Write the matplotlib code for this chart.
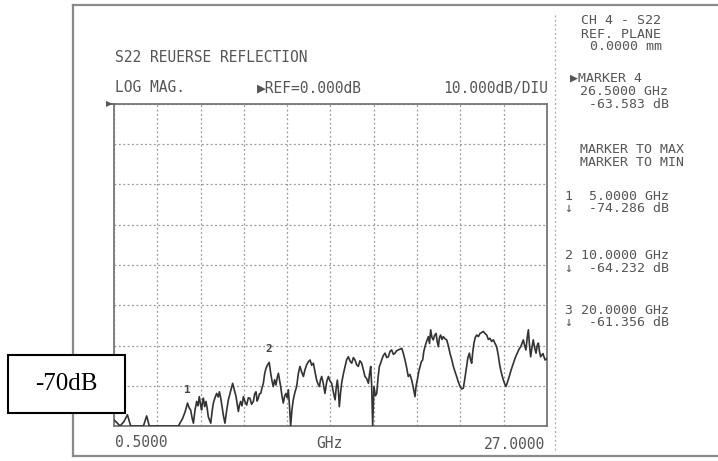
import matplotlib
matplotlib.use('Agg')
import matplotlib.pyplot as plt
from matplotlib.lines import Line2D
from matplotlib.patches import Rectangle
import numpy as np

# S22 trace (GHz, dB)
freq = [0.50, 0.66, 0.87, 1.11, 1.32, 1.52, 2.30, 2.50, 2.66, 4.44, 4.70, 4.85, 5.00, 5.10, 5.19, 5.28, 5.36,
        5.46, 5.56, 5.64, 5.72, 5.80, 5.86, 5.92, 5.97, 6.05, 6.13, 6.20, 6.27, 6.42, 6.50, 6.58, 6.68, 6.78,
        6.88, 6.95, 7.03, 7.11, 7.20, 7.29, 7.40, 7.50, 7.63, 7.76, 7.86, 7.97, 8.04, 8.11, 8.18, 8.25, 8.33,
        8.42, 8.52, 8.62, 8.72, 8.82, 8.92, 9.03, 9.11, 9.19, 9.26, 9.33, 9.40, 9.48, 9.56, 9.64, 9.72, 9.80,
        9.90, 10.00, 10.09, 10.17, 10.25, 10.33, 10.41, 10.49, 10.56, 10.63, 10.70, 10.78, 10.86, 10.95, 11.03,
        11.10, 11.17, 11.24, 11.31, 11.39, 11.47, 11.58, 11.68, 11.78, 11.88, 11.98, 12.09, 12.19, 12.29, 12.40,
        12.50, 12.60, 12.70, 12.80, 12.90, 12.98, 13.07, 13.14, 13.21, 13.31, 13.41, 13.52, 13.62, 13.72, 13.82,
        13.92, 14.03, 14.10, 14.17, 14.23, 14.29, 14.36, 14.43, 14.54, 14.64, 14.74, 14.84, 14.95, 15.05, 15.15,
        15.25, 15.35, 15.45, 15.55, 15.66, 15.76, 15.86, 15.96, 16.07, 16.14, 16.21, 16.27, 16.33, 16.41, 16.50,
        16.58, 16.66, 16.74, 16.81, 16.88, 16.98, 17.09, 17.19, 17.29, 17.39, 17.49, 17.60, 17.70, 17.80, 17.90,
        18.00, 18.11, 18.21, 18.31, 18.41, 18.51, 18.61, 18.72, 18.82, 18.92, 18.99, 19.06, 19.15, 19.23, 19.31,
        19.39, 19.46, 19.53, 19.63, 19.74, 19.81, 19.88, 19.96, 20.04, 20.12, 20.21, 20.28, 20.35, 20.42, 20.49,
        20.57, 20.65, 20.75, 20.86, 20.96, 21.06, 21.17, 21.27, 21.37, 21.47, 21.57, 21.68, 21.78, 21.88, 21.98,
        22.08, 22.16, 22.25, 22.32, 22.39, 22.46, 22.53, 22.61, 22.70, 22.80, 22.90, 23.00, 23.10, 23.20, 23.31,
        23.41, 23.51, 23.61, 23.72, 23.82, 23.92, 24.02, 24.12, 24.22, 24.33, 24.41, 24.49, 24.59, 24.69, 24.81,
        24.94, 25.06, 25.18, 25.28, 25.39, 25.47, 25.55, 25.63, 25.71, 25.79, 25.86, 25.93, 26.00, 26.08, 26.16,
        26.24, 26.33, 26.40, 26.47, 26.54, 26.61, 26.75, 26.88, 27.00]
mag = [-78.5, -79.1, -80.0, -78.9, -77.2, -80.0, -80.0, -77.5, -80.0, -80.0, -78.1, -76.5, -74.3, -75.5, -76.0, -78.0, -79.3,
       -76.0, -73.9, -75.0, -72.7, -74.8, -76.0, -74.0, -73.1, -75.2, -73.9, -75.5, -77.7, -79.3, -76.5, -74.3, -73.0, -71.9,
       -72.8, -71.5, -73.0, -75.2, -77.5, -79.3, -76.0, -73.5, -71.5, -69.4, -71.0, -72.7, -74.5, -76.4, -74.8, -73.9, -75.0,
       -72.7, -74.0, -74.8, -73.0, -73.1, -74.6, -73.9, -72.0, -71.5, -73.8, -73.1, -72.0, -71.9, -70.5, -69.4, -67.0, -65.7,
       -64.8, -64.2, -66.9, -68.8, -70.2, -68.5, -69.8, -68.0, -66.9, -68.5, -70.2, -72.5, -74.3, -72.5, -71.9,
       -73.0, -71.0, -75.0, -80.0, -76.0, -73.5, -71.5, -70.2, -67.0, -65.2, -66.5, -67.7, -66.0, -64.8, -64.0,
       -63.6, -64.9, -64.4, -66.5, -68.6, -69.5, -70.2, -68.5, -67.7, -69.5, -71.9, -69.0, -67.7, -68.8, -69.4,
       -71.5, -73.5, -70.5, -68.6, -71.0, -75.2, -72.0, -69.4, -67.0, -65.2, -63.5, -62.8, -63.9, -64.4, -63.0,
       -63.6, -64.8, -65.2, -63.8, -64.4, -66.0, -67.7, -68.2, -69.4, -67.0, -65.2, -70.0, -80.0, -70.2, -72.5,
       -71.9, -68.0, -65.2, -64.5, -63.6, -62.5, -61.9, -63.0, -62.8, -61.5, -61.1, -62.2, -61.9, -61.3, -61.1,
       -60.9, -60.7, -62.0, -63.6, -65.5, -67.7, -67.2, -68.6, -70.5, -72.7, -70.0, -68.6, -66.5, -65.2, -64.0,
       -63.6, -61.5, -60.3, -59.0, -57.8, -59.5, -56.1, -58.0, -58.6, -57.5, -57.0, -59.0, -60.3, -58.0, -57.4,
       -58.5, -57.8, -58.3, -58.6, -60.0, -61.9, -63.5, -65.2, -66.5, -67.7, -69.0, -70.2, -70.8, -70.6, -68.0,
       -65.2, -63.0, -61.9, -63.5, -64.4, -61.5, -59.4, -58.0, -57.4, -57.8, -57.0, -56.8, -56.5, -57.0, -57.4,
       -58.5, -58.2, -59.0, -58.6, -59.5, -60.3, -62.5, -65.2, -67.0, -68.6, -69.5, -70.2, -69.0, -67.7, -66.0,
       -64.4, -63.0, -61.9, -61.0, -60.3, -59.5, -58.6, -60.0, -61.1, -58.0, -56.1, -60.0, -62.8, -60.5, -58.6,
       -60.5, -61.9, -60.0, -59.4, -61.5, -62.8, -62.0, -63.6, -63.2]

# marker readouts: (number, GHz, dB)
markers = [(1, 5.0, -74.286), (2, 10.0, -64.232), (3, 20.0, -61.356)]

f_start, f_stop = 0.5, 27.0
ref_db, db_div, n_div_y = 0.0, 10.0, 8
n_div_x = 10

W, H = 718, 461
ink = '#555555'
mono = 'DejaVu Sans Mono'
fs = 10.5      # header / axis text
fs_side = 9.5  # marker panel text

fig = plt.figure(figsize=(W / 100, H / 100), dpi=100)


def px(x, y):
    # pixel position -> figure fraction
    return x / W, 1 - y / H


ax = fig.add_axes([114 / W, 1 - 426 / H, 433 / W, 322 / H])
ax.plot(freq, mag, color='#333333', lw=1.2, zorder=3)
ax.set_xlim(f_start, f_stop)
ax.set_ylim(ref_db - n_div_y * db_div, ref_db)
ax.set_xticks(np.linspace(f_start, f_stop, n_div_x + 1))
ax.set_yticks(np.arange(ref_db - n_div_y * db_div, ref_db + 1, db_div))
ax.tick_params(length=0, labelbottom=False, labelleft=False)
ax.grid(True, color='#9a9a9a', ls=(0, (1.5, 2)), lw=0.9)
for s in ax.spines.values():
    s.set_color('#777777')
    s.set_linewidth(1.3)

# reference pointer on the top line
fig.add_artist(Line2D([110 / W, 114 / W], [1 - 104 / H] * 2, color='#666666', lw=1.3))
fig.text(*px(109, 104), '\u25b6', fontsize=6, color='#555555', ha='center', va='center')

# outer frame of the plot sheet
for xs, ys in [((73, 718), (5, 5)), ((73, 73), (5, 456)), ((73, 718), (456, 456))]:
    fig.add_artist(Line2D([x / W for x in xs], [1 - y / H for y in ys], color='#8a8a8a', lw=1.6))
fig.add_artist(Line2D([555 / W] * 2, [1 - 15 / H, 1 - 452 / H], color='#aaaaaa', lw=0.9, ls=(0, (1.5, 2))))

# header texts
fig.text(*px(115, 57), 'S22 REUERSE REFLECTION', family=mono, fontsize=fs, color=ink, va='center')
fig.text(*px(115, 88), 'LOG MAG.', family=mono, fontsize=fs, color=ink, va='center')
fig.text(*px(257, 88), '\u25b6REF=0.000dB', family=mono, fontsize=fs, color=ink, va='center')
fig.text(*px(548, 88), '10.000dB/DIU', family=mono, fontsize=fs, color=ink, va='center', ha='right')

# bottom axis labels
fig.text(*px(115, 442), '0.5000', family=mono, fontsize=fs, color=ink, va='center')
fig.text(*px(329, 443), 'GHz', family=mono, fontsize=fs, color=ink, va='center', ha='center')
fig.text(*px(545, 444), '27.0000', family=mono, fontsize=fs, color=ink, va='center', ha='right')

# marker panel on the right
panel = [(581, 21, 'CH 4 - S22'), (581, 34, 'REF. PLANE'), (590, 47, '0.0000 mm'),
         (570, 78, '\u25b6MARKER 4'), (580, 91, '26.5000 GHz'), (589, 104, '-63.583 dB'),
         (580, 149, 'MARKER TO MAX'), (580, 162, 'MARKER TO MIN')]
for n, f, m in markers:
    y0 = {1: 196, 2: 255, 3: 310}[n]
    panel.append((565, y0, '%d %s GHz' % (n, ('%.4f' % f).rjust(7))))
    panel.append((565, y0 + 13, '\u2193  %.3f dB' % m))
for x, y, t in panel:
    fig.text(*px(x, y), t, family=mono, fontsize=fs_side, color=ink, va='center')

# marker numbers on the trace
for n, f, m in markers[:2]:
    ax.text(f, m + 2.0, str(n), family=mono, fontsize=8, color='#444444', ha='center', va='bottom',
            fontweight='bold')

# annotation box
fig.add_artist(Rectangle(px(8, 413), 117 / W, 58 / H, transform=fig.transFigure,
                         fc='white', ec='black', lw=1.5, zorder=10))
fig.text(*px(66, 384), '-70dB', family='Liberation Serif', fontsize=18, color='black',
         ha='center', va='center', zorder=11)

plt.savefig('out.png', dpi=100)
